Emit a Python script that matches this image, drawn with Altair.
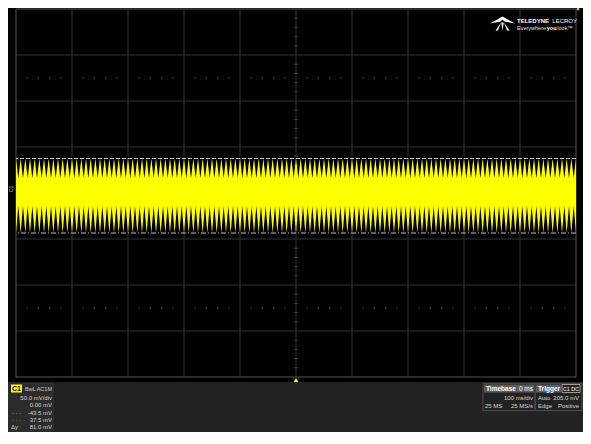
import altair as alt
import pandas as pd

time_grid_ms = [-500, -400, -300, -200, -100, 0, 100, 200, 300, 400, 500]
volt_grid_mV = [-200, -150, -100, -50, 0, 50, 100, 150, 200]
minor_time_ms = [t for t in range(-500, 501, 20) if t % 100 != 0]
minor_volt_mV = [v for v in range(-200, 201, 10) if v % 50 != 0]
dot_rows_mV = [125, -125]

ripple_cycles = 120          # spikes counted across the 1 s screen
upper_peak_mV = 37.5
upper_valley_mV = 16.0
lower_valley_mV = -14.0
lower_peak_mV = -43.5
cursor_top_mV = [37.5]
cursor_bottom_mV = [-43.5]

c1_labels = ["50.0 mV/div", "0.00 mV", "-43.5 mV", "37.5 mV", "81.0 mV"]
tb_labels = ["Timebase", "0 ms", "100 ms/div", "25 MS", "25 MS/s"]
trig_labels = ["Trigger", "C1 DC", "Auto", "205.0 mV", "Edge", "Positive"]

# ---------------- build waveform envelope ----------------
period = 1000.0 / ripple_cycles
t_vals, hi_vals, lo_vals = [], [], []
for k in range(ripple_cycles):
    t0 = -500 + k * period
    t_vals += [t0, t0 + period / 2]
    hi_vals += [upper_peak_mV, upper_valley_mV]
    lo_vals += [lower_peak_mV, lower_valley_mV]
t_vals.append(500.0)
hi_vals.append(upper_peak_mV)
lo_vals.append(lower_peak_mV)
wave = pd.DataFrame({"t": t_vals, "hi": hi_vals, "lo": lo_vals})

W, H = 560, 368
OX, OY = 16, 9    # page position of plot origin
TOTAL_W, TOTAL_H = 575, 424
FONT = "Liberation Sans, Arial, sans-serif"

xs = alt.Scale(domain=[-500, 500], nice=False, zero=False)
ys = alt.Scale(domain=[-200, 200], nice=False, zero=False)
X = lambda f: alt.X(f, scale=xs, axis=None)
Y = lambda f: alt.Y(f, scale=ys, axis=None)

one = pd.DataFrame({"a": [0]})


def rect(x1, y1, x2, y2, fill=None, stroke=None):
    kw = {}
    if fill:
        kw["fill"] = fill
    else:
        kw["fillOpacity"] = 0
    if stroke:
        kw["stroke"] = stroke
        kw["strokeWidth"] = 1
    return alt.Chart(one).mark_rect(**kw).encode(
        x=alt.value(x1 - OX), x2=alt.value(x2 - OX),
        y=alt.value(y1 - OY), y2=alt.value(y2 - OY))


def txt(s, x, y, align="left", size=6, color="#d4d4d4", weight="normal", angle=0):
    return alt.Chart(pd.DataFrame({"s": [s]})).mark_text(
        align=align, baseline="middle", fontSize=size, font=FONT,
        color=color, fontWeight=weight, angle=angle).encode(
        x=alt.value(x - OX), y=alt.value(y - OY), text="s:N")


layers = []
# info strip background
layers.append(rect(8, 382, 583, 432, fill="#222222"))
layers.append(rect(8, 383, 54, 432, fill="#2c2c2c"))

# grid
layers.append(alt.Chart(pd.DataFrame({"t": time_grid_ms[1:-1]})).mark_rule(
    color="#323232", strokeWidth=1).encode(x=X("t:Q")))
layers.append(alt.Chart(pd.DataFrame({"v": volt_grid_mV[1:-1]})).mark_rule(
    color="#323232", strokeWidth=1).encode(y=Y("v:Q")))
# minor ticks along centre lines
layers.append(alt.Chart(pd.DataFrame({"v": minor_volt_mV, "t": [0] * len(minor_volt_mV)})).mark_tick(
    orient="horizontal", size=4, thickness=1, color="#555555").encode(x=X("t:Q"), y=Y("v:Q")))
layers.append(alt.Chart(pd.DataFrame({"t": minor_time_ms, "v": [0] * len(minor_time_ms)})).mark_tick(
    orient="vertical", size=4, thickness=1, color="#555555").encode(x=X("t:Q"), y=Y("v:Q")))
# dotted rows
dots = pd.DataFrame([(t, v) for v in dot_rows_mV for t in minor_time_ms], columns=["t", "v"])
layers.append(alt.Chart(dots).mark_square(size=1.5, color="#5a5a5a", opacity=1).encode(
    x=X("t:Q"), y=Y("v:Q")))
# frame
layers.append(alt.Chart(pd.DataFrame({"t": [time_grid_ms[0], time_grid_ms[-1]]})).mark_rule(
    color="#555555", strokeWidth=1).encode(x=X("t:Q")))
layers.append(alt.Chart(pd.DataFrame({"v": [volt_grid_mV[0], volt_grid_mV[-1]]})).mark_rule(
    color="#555555", strokeWidth=1).encode(y=Y("v:Q")))

# waveform
layers.append(alt.Chart(wave).mark_area(color="#ffff00", interpolate="linear").encode(
    x=X("t:Q"), y=Y("hi:Q"), y2="lo:Q"))

# cursors
layers.append(alt.Chart(pd.DataFrame({"v": cursor_top_mV})).mark_rule(
    color="#c8c8c8", strokeWidth=1, strokeDash=[4, 2]).encode(y=Y("v:Q")))
layers.append(alt.Chart(pd.DataFrame({"v": cursor_bottom_mV})).mark_rule(
    color="#b8b8d8", strokeWidth=1, strokeDash=[5, 2, 1, 2]).encode(y=Y("v:Q")))

# trigger position & level markers
layers.append(alt.Chart(pd.DataFrame({"t": [0]})).mark_point(
    shape="triangle-up", filled=True, size=22, color="#ffff00", opacity=1).encode(
    x=X("t:Q"), y=alt.value(H + 3)))
layers.append(alt.Chart(one).mark_square(size=6, color="#c8d040", opacity=1).encode(
    x=alt.value(578 - OX), y=alt.value(9 - OY)))

# channel marker
layers.append(txt("C1", 11, 189, align="center", size=5, color="#c8c870", angle=270))

# logo
logo_path = ("M-1,0 L0,-0.56 L1,0 L0.16,-0.16 L0,-0.32 L-0.16,-0.16 Z "
             "M-0.12,-0.08 L-0.56,0.56 L-0.36,0.56 Z "
             "M0.12,-0.08 L0.56,0.56 L0.36,0.56 Z "
             "M-0.1,-0.08 L0.1,-0.08 L0,0.56 Z")
layers.append(alt.Chart(one).mark_point(
    shape=logo_path, size=625, filled=True, color="#ffffff", opacity=1, strokeWidth=0).encode(
    x=alt.value(502.5 - OX), y=alt.value(23.5 - OY)))
layers.append(txt("TELEDYNE", 517, 20.5, size=6, color="#ffffff", weight="bold"))
layers.append(txt("LECROY", 577, 20.5, align="right", size=6, color="#ffffff"))
layers.append(txt("Everywhere", 517, 28, size=5.5, color="#e0e0e0"))
layers.append(txt("you", 546.8, 28, size=5.5, color="#ffffff", weight="bold"))
layers.append(txt("look\u2122", 557.3, 28, size=5.5, color="#e0e0e0"))

# C1 info panel
layers.append(rect(11, 384.5, 22, 392.5, fill="#ffff00"))
layers.append(txt("C1", 16.5, 388.5, align="center", size=7, color="#000000", weight="bold"))
layers.append(txt("BwL AC1M", 52, 388.5, align="right", size=5.5, color="#cfcfcf"))
for lab, yy in zip(c1_labels, [398, 405.3, 412.6, 419.9, 427.2]):
    layers.append(txt(lab, 52, yy, align="right"))
layers.append(txt("- - -", 12, 412.6, size=6, color="#9a9a9a"))
layers.append(txt("· · · ·", 12, 419.9, size=6, color="#9a9a9a"))
layers.append(txt("\u0394y", 11, 427.2, size=6, color="#cfcfcf"))

# timebase panel
layers.append(rect(483, 383.5, 535, 410.5, stroke="#4a4a4a"))
layers.append(rect(484, 384.5, 534, 392.5, fill="#5c5c5c"))
layers.append(txt(tb_labels[0], 486, 388.5, size=6.5, color="#ffffff", weight="bold"))
layers.append(txt(tb_labels[1], 533, 388.5, align="right", size=6.5, color="#ffffff"))
layers.append(txt(tb_labels[2], 533, 398, align="right"))
layers.append(txt(tb_labels[3], 485, 405.5))
layers.append(txt(tb_labels[4], 533, 405.5, align="right"))

# trigger panel
layers.append(rect(535, 383.5, 582, 410.5, stroke="#4a4a4a"))
layers.append(rect(536, 384.5, 561, 392.5, fill="#5c5c5c"))
layers.append(txt(trig_labels[0], 538, 388.5, size=6.5, color="#ffffff", weight="bold"))
layers.append(rect(562, 384.5, 580, 392.5, stroke="#9a9a9a"))
layers.append(txt(trig_labels[1], 571, 388.5, align="center", size=5.3, color="#ffffff"))
layers.append(txt(trig_labels[2], 538, 398))
layers.append(txt(trig_labels[3], 579, 398, align="right"))
layers.append(txt(trig_labels[4], 538, 405.5))
layers.append(txt(trig_labels[5], 579, 405.5, align="right"))

chart = alt.layer(*layers).properties(
    width=W, height=H,
    autosize=alt.AutoSizeParams(type="none"),
    padding={"left": OX - 8, "top": OY - 8,
             "right": TOTAL_W - (OX - 8) - W, "bottom": TOTAL_H - (OY - 8) - H},
    background="#000000",
).configure_view(stroke=None)

chart.save("out.html", embed_options={"renderer": "svg", "actions": False})
